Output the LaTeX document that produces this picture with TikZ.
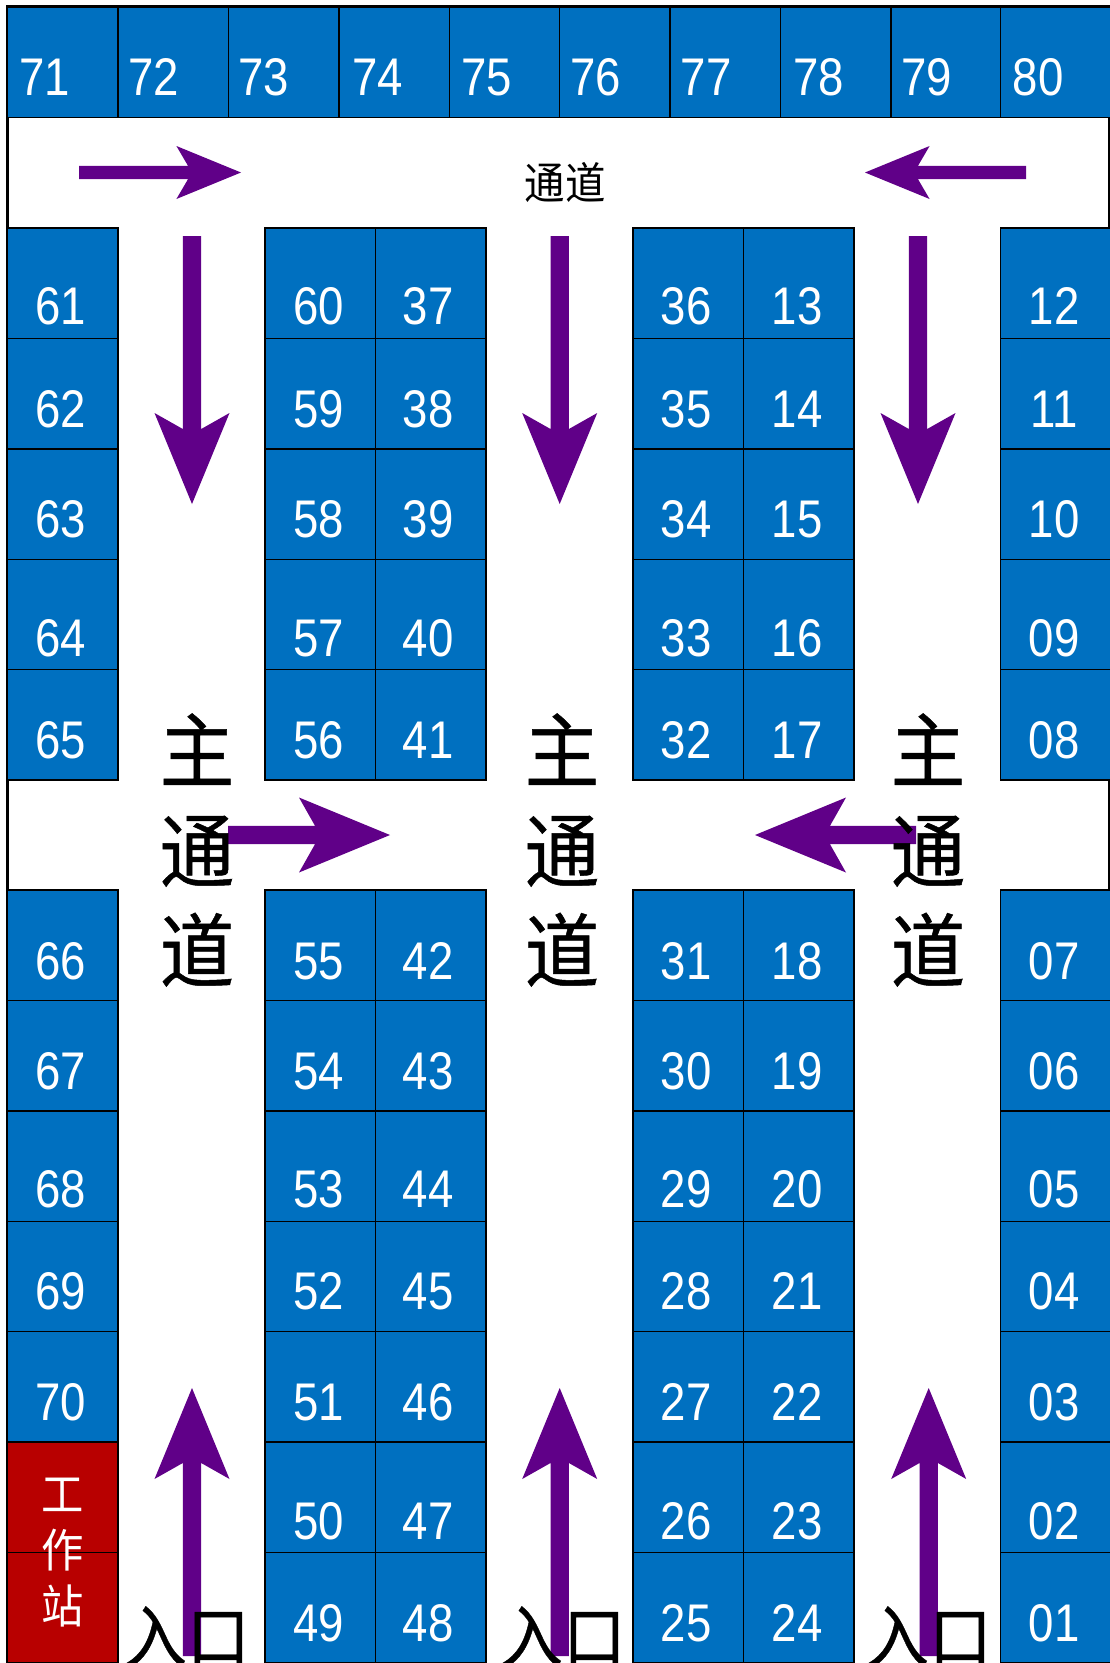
\documentclass[tikz,border=0pt]{standalone}
\usepackage{fontspec}
\setmainfont{Liberation Sans}
\newfontfamily\numfont[FakeStretch=0.86]{Liberation Sans}
\newfontfamily\cjk[FakeStretch=0.92,FakeBold=0.6]{Noto Sans CJK SC}
\newfontfamily\cjksmall[FakeStretch=0.92]{Noto Sans CJK SC}
\definecolor{cellblue}{HTML}{0070C0}
\definecolor{cellred}{HTML}{B80000}
\definecolor{arrowpurple}{HTML}{600088}
\tikzset{
  cell/.style={draw=black,line width=1.4pt,fill=cellblue,inner sep=0pt,outer sep=0pt,minimum width=110.4pt,minimum height=110.4pt,anchor=north west},
  redcell/.style={cell,fill=cellred},
  num/.style={text=white,inner sep=0pt,anchor=base,font=\numfont\fontsize{53}{53}\selectfont},
  mainlabel/.style={text=black,inner sep=0pt,align=center,font=\cjk\fontsize{81}{100}\selectfont},
  entrylabel/.style={text=black,inner sep=0pt,anchor=base,font=\cjk\fontsize{68}{68}\selectfont},
  toplabel/.style={text=black,inner sep=0pt,font=\cjksmall\fontsize{44}{44}\selectfont},
  worklabel/.style={text=white,inner sep=0pt,align=center,font=\cjksmall\fontsize{46}{56}\selectfont},
  parrow/.style={fill=arrowpurple,draw=none},
  frame/.style={draw=black,line width=2.4pt,fill=white}
}
% tail x, tail y, angle, length, shaft half width, notch from tip, barb from tip, head half width
\newcommand{\parw}[8]{\fill[parrow,shift={(#1,#2)},rotate=#3] (0,-#5) -- ({#4-#6},-#5) -- ({#4-#7},-#8) -- (#4,0) -- ({#4-#7},#8) -- ({#4-#6},#5) -- (0,#5) -- cycle;}
\newcommand{\slot}[5]{\node[cell] (c#1) at (#2,#3) {}; \node[num] (t#1) at (#4,#5) {#1};}
\begin{document}
\begin{tikzpicture}[x=1pt,y=-1pt]
\useasboundingbox (0,0) rectangle (1110,1663);
\fill[white] (0,0) rectangle (1110,1663);
\draw[frame] (7.5,6.5) rectangle (1109.5,1664);
% top row
\foreach \n/\l/\tx in {71/7.5/44.5,72/118/153.5,73/228.4/264,74/338.8/377.4,75/449.2/486.6,76/559.6/596,77/670/706,78/780.4/818.5,79/890.8/926.6,80/1000.5/1038}
  {\slot{\n}{\l}{7}{\tx}{95}}
% left column
\foreach \n/\t/\b in {61/228/324,62/338.4/427,63/448.8/537.5,64/559.2/656,65/669.6/758,66/890/979.5,67/1000.5/1089,68/1110.9/1207.5,69/1221.3/1309,70/1331.7/1420.6}
  {\slot{\n}{7.5}{\t}{60.4}{\b}}
% second block
\foreach \n/\t/\b in {60/228/324,59/338.4/427,58/448.8/537.5,57/559.2/656,56/669.6/758,55/890/979.5,54/1000.5/1089,53/1110.9/1207.5,52/1221.3/1309,51/1331.7/1420.6,50/1442.1/1539,49/1552.5/1641}
  {\slot{\n}{265}{\t}{318.5}{\b}}
\foreach \n/\t/\b in {37/228/324,38/338.4/427,39/448.8/537.5,40/559.2/656,41/669.6/758,42/890/979.5,43/1000.5/1089,44/1110.9/1207.5,45/1221.3/1309,46/1331.7/1420.6,47/1442.1/1539,48/1552.5/1641}
  {\slot{\n}{375.4}{\t}{428.3}{\b}}
% third block
\foreach \n/\t/\b in {36/228/324,35/338.4/427,34/448.8/537.5,33/559.2/656,32/669.6/758,31/890/979.5,30/1000.5/1089,29/1110.9/1207.5,28/1221.3/1309,27/1331.7/1420.6,26/1442.1/1539,25/1552.5/1641}
  {\slot{\n}{633}{\t}{686}{\b}}
\foreach \n/\t/\b in {13/228/324,14/338.4/427,15/448.8/537.5,16/559.2/656,17/669.6/758,18/890/979.5,19/1000.5/1089,20/1110.9/1207.5,21/1221.3/1309,22/1331.7/1420.6,23/1442.1/1539,24/1552.5/1641}
  {\slot{\n}{743.4}{\t}{797}{\b}}
% right column
\foreach \n/\t/\b in {12/228/324,11/338.4/427,10/448.8/537.5,09/559.2/656,08/669.6/758,07/890/979.5,06/1000.5/1089,05/1110.9/1207.5,04/1221.3/1309,03/1331.7/1420.6,02/1442.1/1539,01/1552.5/1641}
  {\slot{\n}{1000.5}{\t}{1054}{\b}}
% work station
\node[redcell] (w1) at (7.5,1442.1) {};
\node[redcell] (w2) at (7.5,1552.5) {};
% arrows
\parw{79}{172.5}{0}{162}{6.7}{53}{64.6}{26.5}
\parw{1026}{172.5}{180}{161}{6.7}{53}{64.6}{26.5}
\parw{192}{236}{-90}{268}{9.2}{75}{91}{37.5}
\parw{559.7}{236}{-90}{268}{9.2}{75}{91}{37.5}
\parw{918}{236}{-90}{268}{9.2}{75}{91}{37.5}
\parw{192}{1656}{90}{268}{9.2}{75}{91}{37.5}
\parw{559.7}{1656}{90}{268}{9.2}{75}{91}{37.5}
\parw{928.7}{1656}{90}{268}{9.2}{75}{91}{37.5}
\parw{228}{835}{0}{162}{9.2}{75}{91}{37.5}
\parw{916}{835}{180}{161}{9.2}{75}{91}{37.5}
% labels
\node[toplabel] (chan) at (565,182) {通道};
\node[mainlabel] (m1) at (197,850) {主\\通\\道};
\node[mainlabel] (m2) at (562,850) {主\\通\\道};
\node[mainlabel] (m3) at (928,850) {主\\通\\道};
\node[entrylabel] (e1) at (187,1662) {入口};
\node[entrylabel] (e2) at (563,1662) {入口};
\node[entrylabel] (e3) at (929,1662) {入口};
\node[worklabel] (work) at (63,1553) {工\\作\\站};
\end{tikzpicture}
\end{document}
